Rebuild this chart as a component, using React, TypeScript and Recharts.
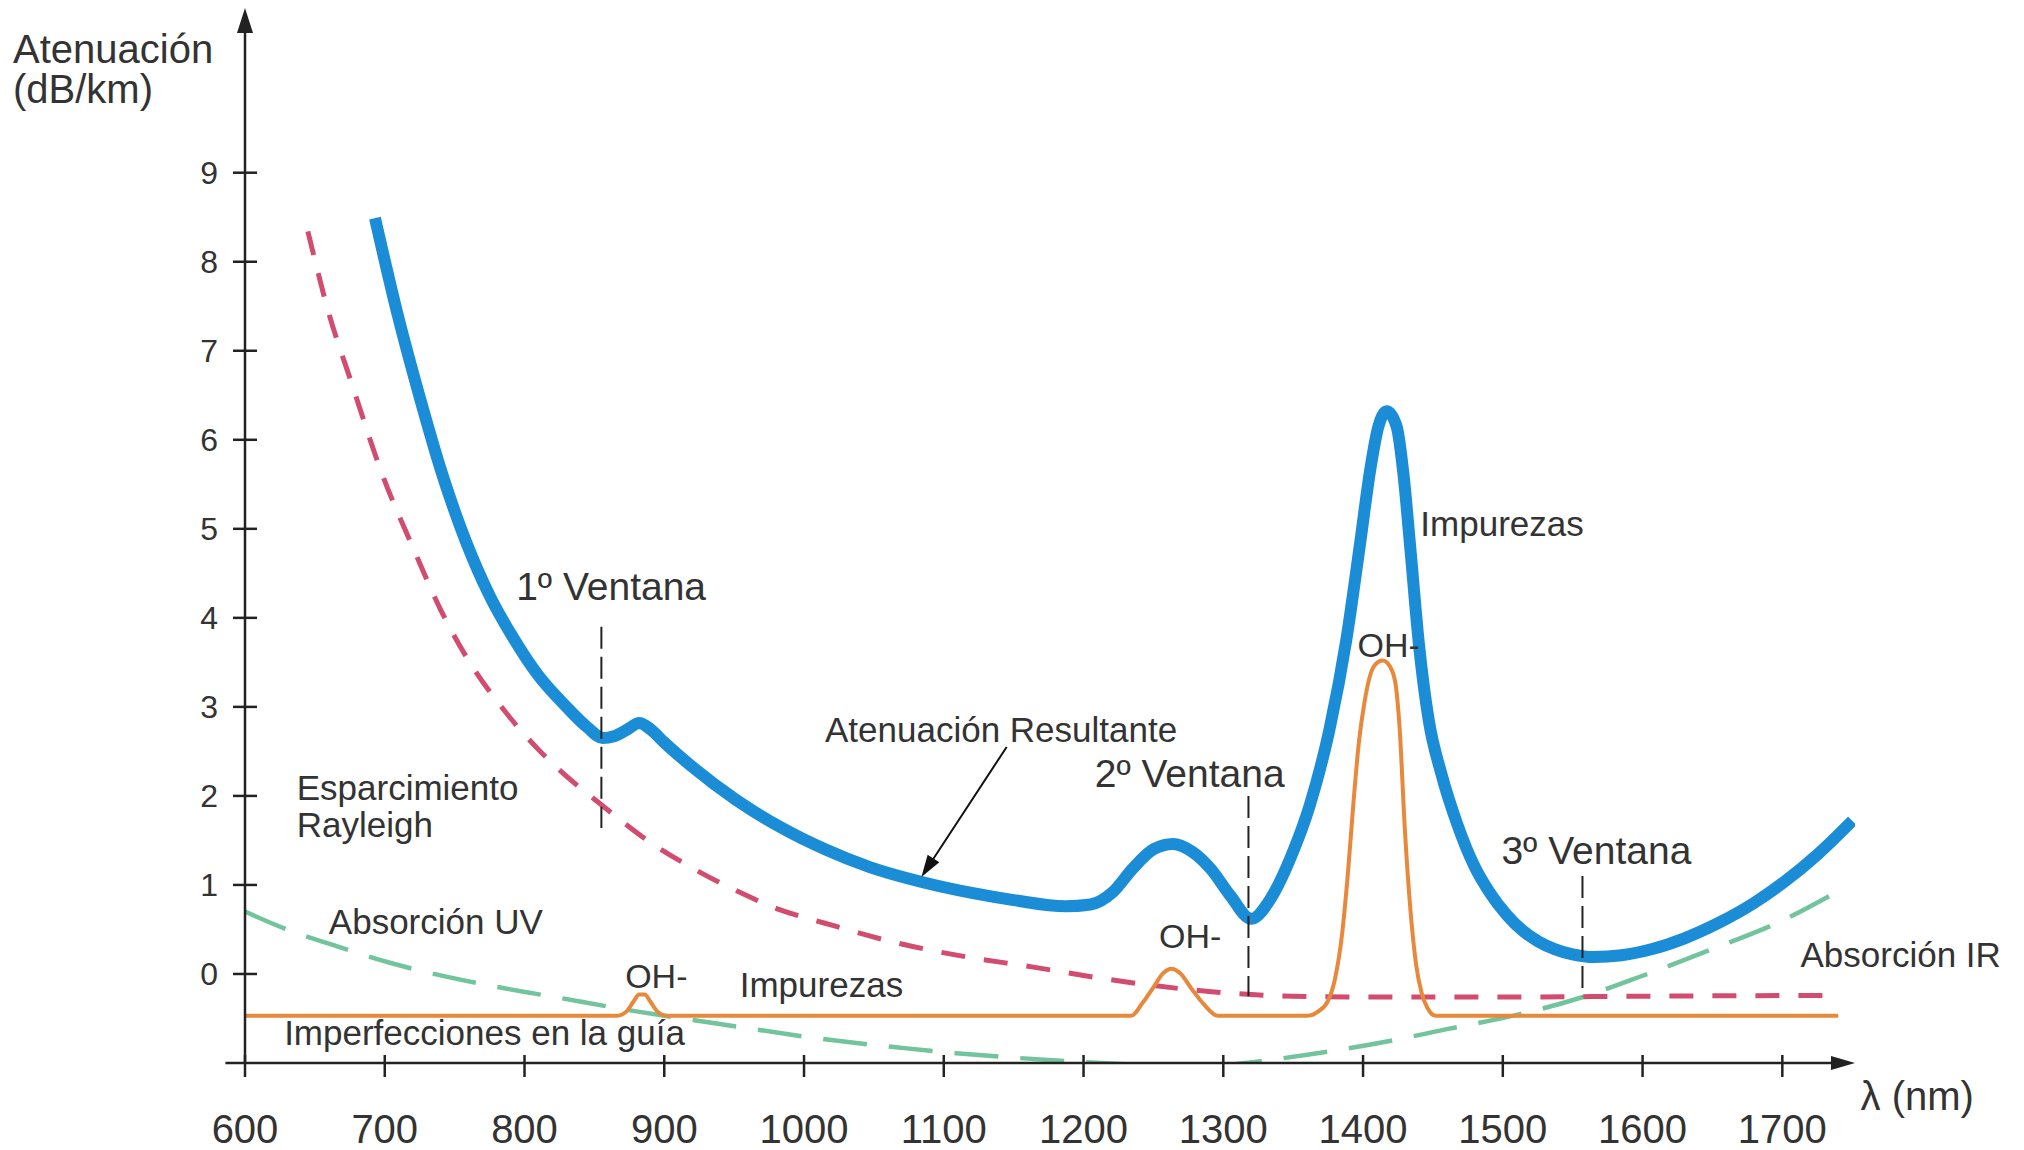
import React from "react";
import { LineChart, Line, XAxis, YAxis, ReferenceLine, ReferenceDot } from "recharts";

// ---- data (wavelength nm, attenuation dB/km) ----
const resultante: number[][] = [
  [693, 8.49], [709, 7.42], [725, 6.48], [741, 5.62], [758, 4.86], [775, 4.25], [791, 3.8], [810, 3.35],
  [830, 3.0], [845, 2.77], [856, 2.65], [864, 2.67], [874, 2.75], [882, 2.82], [890, 2.75], [900, 2.6],
  [919, 2.34], [951, 1.96], [983, 1.65], [1015, 1.4], [1047, 1.2], [1085, 1.03], [1120, 0.91], [1150, 0.83],
  [1187, 0.76], [1205, 0.78], [1221, 0.92], [1235, 1.18], [1250, 1.4], [1264, 1.46], [1278, 1.37], [1291, 1.18],
  [1305, 0.88], [1320, 0.62], [1334, 0.85], [1348, 1.3], [1362, 1.9], [1376, 2.75], [1388, 3.75], [1398, 4.85],
  [1405, 5.65], [1411, 6.15], [1417, 6.32], [1424, 6.15], [1429, 5.6], [1434, 4.75], [1440, 3.7], [1447, 2.85],
  [1456, 2.25], [1467, 1.7], [1480, 1.2], [1490, 0.93], [1503, 0.66], [1514, 0.49], [1526, 0.36], [1537, 0.28],
  [1550, 0.22], [1565, 0.19], [1585, 0.21], [1607, 0.28], [1630, 0.4], [1654, 0.57], [1680, 0.8], [1701, 1.03],
  [1725, 1.34], [1750, 1.72],
];

const rayleigh: number[][] = [
  [645, 8.34], [660, 7.42], [676, 6.65], [698, 5.62], [721, 4.76], [740, 4.09], [760, 3.52], [785, 2.97],
  [810, 2.52], [836, 2.14], [855, 1.9], [887, 1.51], [919, 1.2], [951, 0.94], [983, 0.72], [1015, 0.57],
  [1066, 0.35], [1117, 0.19], [1163, 0.08], [1209, -0.04], [1250, -0.13], [1300, -0.21], [1350, -0.25],
  [1400, -0.26], [1500, -0.26], [1600, -0.25], [1740, -0.24],
];

const absorcion: number[][] = [
  [600, 0.7], [630, 0.5], [666, 0.31], [705, 0.12], [744, -0.03], [782, -0.15], [822, -0.26], [880, -0.42],
  [935, -0.55], [1018, -0.74], [1070, -0.83], [1109, -0.89], [1150, -0.94], [1200, -0.99], [1240, -1.02],
  [1275, -1.04], [1310, -1.01], [1341, -0.95], [1380, -0.86], [1420, -0.75], [1460, -0.62], [1510, -0.46],
  [1555, -0.27], [1600, -0.02], [1650, 0.28], [1700, 0.6], [1740, 0.93],
];

const impurezas: number[][] = [
  [600, -0.47], [866, -0.47], [873, -0.42], [878, -0.31], [882, -0.23], [886, -0.23], [890, -0.31], [895, -0.42],
  [902, -0.47], [1234, -0.47], [1242, -0.33], [1250, -0.15], [1257, 0.01], [1263, 0.06], [1269, 0.01],
  [1277, -0.16], [1286, -0.34], [1296, -0.47], [1360, -0.47], [1368, -0.42], [1375, -0.3], [1380, -0.05],
  [1385, 0.45], [1389, 1.1], [1393, 1.9], [1397, 2.6], [1401, 3.05], [1405, 3.35], [1409, 3.48], [1414, 3.52],
  [1419, 3.46], [1423, 3.28], [1426, 2.8], [1430, 1.6], [1434, 0.7], [1438, 0.1], [1442, -0.22], [1446, -0.38],
  [1452, -0.47], [1740, -0.47],
];

const xTicks = [600, 700, 800, 900, 1000, 1100, 1200, 1300, 1400, 1500, 1600, 1700];
const yTicks = [0, 1, 2, 3, 4, 5, 6, 7, 8, 9];

// optical windows: wavelength, top, bottom
const ventanas: number[][] = [
  [855, 3.9, 1.64],
  [1318, 2.0, -0.25],
  [1557, 1.1, -0.25],
];

// annotations: text, nm, dB (baseline-left anchor), font size
const textos: [string, number, number, number][] = [
  ["Atenuación", 434, 10.23, 40],
  ["(dB/km)", 434, 9.78, 40],
  ["1º Ventana", 794, 4.2, 39],
  ["2º Ventana", 1208, 2.1, 39],
  ["3º Ventana", 1499, 1.24, 39],
  ["Atenuación Resultante", 1015, 2.61, 35],
  ["Impurezas", 1441, 4.92, 35],
  ["OH-", 1396, 3.56, 34],
  ["Esparcimiento", 637, 1.95, 35],
  ["Rayleigh", 637, 1.54, 35],
  ["Absorción UV", 660, 0.45, 35],
  ["OH-", 872, -0.16, 34],
  ["Impurezas", 954, -0.26, 35],
  ["Imperfecciones en la guía", 628, -0.8, 35],
  ["OH-", 1254, 0.29, 34],
  ["Absorción IR", 1713, 0.08, 35],
  ["λ (nm)", 1756, -1.53, 40],
];

const FONT = "'Liberation Sans', Arial, Helvetica, sans-serif";
const AXIS = "#222";
const TEXT = "#333";

const pts = (arr: number[][]) => arr.map(([nm, db]) => ({ nm, db }));

const YTick = (props: any) => {
  const { x, y, payload } = props;
  return (
    <g>
      <line x1={x - 12} x2={x + 12} y1={y} y2={y} stroke={AXIS} strokeWidth={2.5} />
      <text x={x - 27} y={y + 11.5} textAnchor="end" fontSize={32} fill={TEXT} fontFamily={FONT}>
        {payload.value}
      </text>
    </g>
  );
};

const XTick = (props: any) => {
  const { x, y, payload } = props;
  return (
    <g>
      <line x1={x} x2={x} y1={y - 8} y2={y + 14} stroke={AXIS} strokeWidth={2.5} />
      <text x={x} y={y + 80} textAnchor="middle" fontSize={40} fill={TEXT} fontFamily={FONT}>
        {payload.value}
      </text>
    </g>
  );
};

const arrowShape = (color: string, width: number, headLen: number, headHalf: number) => (props: any) => {
  const { x1, y1, x2, y2 } = props;
  const dx = x2 - x1;
  const dy = y2 - y1;
  const len = Math.sqrt(dx * dx + dy * dy) || 1;
  const ux = dx / len;
  const uy = dy / len;
  const bx = x2 - ux * headLen;
  const by = y2 - uy * headLen;
  const px = -uy * headHalf;
  const py = ux * headHalf;
  return (
    <g>
      <line x1={x1} y1={y1} x2={bx + ux * 2} y2={by + uy * 2} stroke={color} strokeWidth={width} />
      <polygon points={`${x2},${y2} ${bx + px},${by + py} ${bx - px},${by - py}`} fill={color} />
    </g>
  );
};

const textShape = (t: string, size: number) => (p: any) => (
  <text x={p.cx} y={p.cy} fontSize={size} fill={TEXT} fontFamily={FONT}>
    {t}
  </text>
);

export default function App() {
  return (
    <div style={{ position: "absolute", left: 0, top: 0, width: 2024, height: 1150, background: "#fff" }}>
      <LineChart width={2024} height={1150} margin={{ top: 8, right: 169, bottom: 0, left: 0 }}>
        <XAxis
          dataKey="nm"
          type="number"
          domain={[600, 1752]}
          ticks={xTicks}
          allowDataOverflow
          interval={0}
          axisLine={false}
          tickLine={false}
          tickSize={0}
          tickMargin={0}
          height={87}
          tick={<XTick />}
        />
        <YAxis
          type="number"
          domain={[-1, 10.85]}
          ticks={yTicks}
          allowDataOverflow
          interval={0}
          axisLine={false}
          tickLine={false}
          tickSize={0}
          tickMargin={0}
          width={245}
          tick={<YTick />}
        />

        <Line data={pts(absorcion)} dataKey="db" type="monotone" stroke="#72c49c" strokeWidth={4.5}
          strokeDasharray="44 22" dot={false} activeDot={false} isAnimationActive={false} />
        <Line data={pts(rayleigh)} dataKey="db" type="monotone" stroke="#d24c70" strokeWidth={5}
          strokeDasharray="24 19" dot={false} activeDot={false} isAnimationActive={false} />
        <Line data={pts(impurezas)} dataKey="db" type="monotone" stroke="#e8883a" strokeWidth={4}
          dot={false} activeDot={false} isAnimationActive={false} />
        <Line data={pts(resultante)} dataKey="db" type="monotone" stroke="#1b8dd6" strokeWidth={12}
          dot={false} activeDot={false} isAnimationActive={false} />

        {ventanas.map(([nm, top, bottom], i) => (
          <ReferenceLine key={"v" + i} segment={[{ x: nm, y: top }, { x: nm, y: bottom }]}
            stroke="#222" strokeWidth={2} strokeDasharray="22 8" ifOverflow="visible" />
        ))}

        <ReferenceLine segment={[{ x: 600, y: -1 }, { x: 600, y: 10.85 }]} ifOverflow="visible"
          shape={arrowShape(AXIS, 2.5, 25, 8)} />
        <ReferenceLine segment={[{ x: 586, y: -1 }, { x: 1752, y: -1 }]} ifOverflow="visible"
          shape={arrowShape(AXIS, 2.5, 24, 7)} />
        <ReferenceLine segment={[{ x: 1145, y: 2.55 }, { x: 1084, y: 1.09 }]} ifOverflow="visible"
          shape={arrowShape("#111", 2, 22, 7)} />

        {textos.map(([t, nm, db, size], i) => (
          <ReferenceDot key={"t" + i} x={nm} y={db} r={0} ifOverflow="visible" shape={textShape(t, size)} />
        ))}
      </LineChart>
    </div>
  );
}
